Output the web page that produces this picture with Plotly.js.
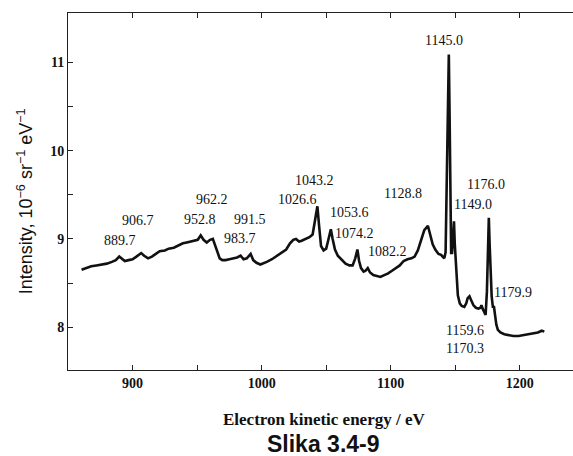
<!DOCTYPE html>
<html>
<head>
<meta charset="utf-8">
<script src="https://cdn.plot.ly/plotly-3.0.1.min.js"></script>
<style>
  html, body { margin: 0; padding: 0; background: #fff; overflow: hidden; }
  #chart { width: 573px; height: 456px; }
</style>
</head>
<body>
<div id="chart"></div>
<script>
// Electron kinetic energy (eV) of the recorded spectrum
const energy = [
  860.5, 864, 868, 872, 876, 880, 884, 887, 889.7, 891.5, 894, 897, 900, 903, 906.7,
  909, 912, 915, 918, 921, 925, 928, 932, 936, 939, 942, 945, 948, 950.5, 952.8,
  955, 957.5, 960, 962.2, 964, 966, 967.5, 969.5, 972, 975, 978, 981, 983.7, 986,
  988.5, 991.5, 993.5, 996, 999, 1001, 1004, 1008, 1012, 1016, 1019, 1022, 1024.5,
  1026.6, 1029, 1031, 1034, 1037, 1039.5, 1041.5, 1043.2, 1044.5, 1046, 1048, 1050,
  1051.5, 1053.6, 1055, 1056.8, 1059, 1062, 1065, 1068, 1070.5, 1072.5, 1074.2,
  1075.5, 1077, 1079, 1080.5, 1082.2, 1084, 1086.5, 1089, 1092, 1095, 1098, 1101,
  1104, 1107, 1110, 1113, 1116, 1118.5, 1121, 1123.5, 1126, 1128.8, 1130.5, 1132.5,
  1134.5, 1137, 1139, 1140.5, 1141.5, 1142.5, 1143.5, 1144.3, 1145.0, 1145.6, 1146.2,
  1146.8, 1147.5, 1148.3, 1149.0, 1149.6, 1150.3, 1151, 1152, 1153.5, 1155, 1157,
  1158.5, 1159.6, 1161, 1162.5, 1164, 1166, 1168, 1169.5, 1170.3, 1171.2, 1172.5,
  1173.5, 1174.5, 1175.3, 1176.0, 1176.6, 1177.3, 1178.2, 1179.2, 1179.9, 1180.8,
  1181.8, 1183, 1185, 1188, 1191, 1195, 1199, 1203, 1207, 1211, 1214, 1217, 1219
];

// Intensity, 10^-6 sr^-1 eV^-1
const intensity = [
  8.65, 8.67, 8.69, 8.70, 8.71, 8.72, 8.74, 8.76, 8.80, 8.78, 8.75, 8.76, 8.77, 8.80, 8.84,
  8.81, 8.78, 8.80, 8.83, 8.86, 8.87, 8.89, 8.90, 8.93, 8.95, 8.96, 8.97, 8.98, 8.99, 9.04,
  8.99, 8.96, 8.99, 9.00, 8.93, 8.84, 8.78, 8.76, 8.76, 8.77, 8.78, 8.79, 8.81, 8.77,
  8.78, 8.83, 8.76, 8.73, 8.71, 8.72, 8.74, 8.77, 8.81, 8.84, 8.88, 8.95, 8.99,
  9.00, 8.97, 8.98, 9.00, 9.02, 9.05, 9.20, 9.37, 9.15, 8.92, 8.87, 8.89,
  8.98, 9.11, 9.00, 8.88, 8.81, 8.76, 8.72, 8.70, 8.70, 8.78, 8.88,
  8.75, 8.67, 8.63, 8.64, 8.67, 8.62, 8.59, 8.58, 8.57, 8.59, 8.61, 8.64,
  8.67, 8.70, 8.75, 8.77, 8.78, 8.80, 8.87, 8.98, 9.10, 9.15, 9.06, 8.94,
  8.88, 8.83, 8.82, 8.79, 8.78, 8.85, 9.60, 10.60, 11.09, 10.40, 9.40,
  8.84, 8.84, 9.05, 9.20, 8.95, 8.80, 8.55, 8.36, 8.27, 8.24, 8.23,
  8.27, 8.33, 8.35, 8.30, 8.25, 8.22, 8.21, 8.22, 8.25, 8.21, 8.16,
  8.14, 8.40, 9.00, 9.24, 8.95, 8.55, 8.35, 8.22, 8.24, 8.14,
  8.03, 7.97, 7.94, 7.92, 7.91, 7.90, 7.90, 7.91, 7.92, 7.93, 7.94, 7.96, 7.95
];

// Peak labels (energies in eV)
const peakLabels = [
  '889.7', '906.7', '952.8', '962.2', '991.5', '983.7', '1026.6', '1043.2', '1053.6',
  '1074.2', '1082.2', '1128.8', '1145.0', '1176.0', '1149.0', '1179.9', '1159.6', '1170.3'
];

// Labelled axis ticks
const xTickVals = [900, 1000, 1100, 1200];
const xTickText = ['900', '1000', '1100', '1200'];
const yTickVals = [8, 9, 10, 11];
const yTickText = ['8', '9', '10', '11'];

// Label anchor points in axis units, in the same order as peakLabels
const labelAt = [
  [890.3, 8.977], [904.5, 9.204], [952.2, 9.215], [961.8, 9.442], [991.0, 9.223],
  [983.2, 9.0], [1027.4, 9.442], [1041.3, 9.658], [1068.4, 9.298], [1072.3, 9.065],
  [1097.3, 8.856], [1109.7, 9.518], [1141.2, 11.248], [1173.8, 9.612], [1163.9, 9.385],
  [1194.9, 8.391], [1157.5, 7.96], [1157.5, 7.76]
];

const serif = 'Liberation Serif, Times New Roman, serif';
const sans = 'Liberation Sans, Arial, sans-serif';

const annotations = peakLabels.map((t, i) => ({
  x: labelAt[i][0], y: labelAt[i][1], xref: 'x', yref: 'y',
  text: t, showarrow: false, xanchor: 'center', yanchor: 'middle',
  font: { family: serif, size: 14, color: '#111' }
}));

// Axis titles and caption
annotations.push({
  x: -0.085, y: 0.473, xref: 'paper', yref: 'paper',
  text: 'Intensity, 10<sup>−6</sup> sr<sup>−1</sup> eV<sup>−1</sup>',
  textangle: -90, showarrow: false, xanchor: 'center', yanchor: 'middle',
  font: { family: sans, size: 18, color: '#111' }
});
annotations.push({
  x: 0.506, y: -0.14, xref: 'paper', yref: 'paper',
  text: '<b>Electron kinetic energy / eV</b>', showarrow: false,
  xanchor: 'center', yanchor: 'middle',
  font: { family: serif, size: 17, color: '#111' }
});
annotations.push({
  x: 0.506, y: -0.207, xref: 'paper', yref: 'paper',
  text: '<b>Slika 3.4-9</b>', showarrow: false,
  xanchor: 'center', yanchor: 'middle',
  font: { family: sans, size: 23, color: '#111' }
});

const trace = {
  x: energy, y: intensity, type: 'scatter', mode: 'lines',
  line: { color: '#111', width: 2.6, shape: 'linear' },
  hoverinfo: 'skip'
};

const layout = {
  width: 573, height: 456,
  margin: { l: 68, r: 0, t: 13, b: 86 },
  paper_bgcolor: '#fff', plot_bgcolor: '#fff',
  showlegend: false,
  xaxis: {
    range: [850, 1241.2],
    tickvals: xTickVals, ticktext: xTickText,
    ticks: 'inside', ticklen: 5, tickwidth: 1, tickcolor: '#222',
    minor: { tickvals: [950, 1050, 1150], ticks: 'inside', ticklen: 5, tickwidth: 1, tickcolor: '#222', showgrid: false },
    showline: true, linecolor: '#222', linewidth: 1, mirror: 'ticks',
    showgrid: false, zeroline: false,
    tickfont: { family: serif, size: 14, color: '#111', weight: 'bold' }
  },
  yaxis: {
    range: [7.515, 11.56],
    tickvals: yTickVals, ticktext: yTickText,
    ticks: 'inside', ticklen: 5, tickwidth: 1, tickcolor: '#222',
    minor: { tickvals: [8.5, 9.5, 10.5], ticks: 'inside', ticklen: 5, tickwidth: 1, tickcolor: '#222', showgrid: false },
    showline: true, linecolor: '#222', linewidth: 1, mirror: false,
    showgrid: false, zeroline: false,
    tickfont: { family: serif, size: 14, color: '#111', weight: 'bold' }
  },
  annotations: annotations
};

Plotly.newPlot('chart', [trace], layout, { staticPlot: true, displayModeBar: false });
</script>
</body>
</html>
